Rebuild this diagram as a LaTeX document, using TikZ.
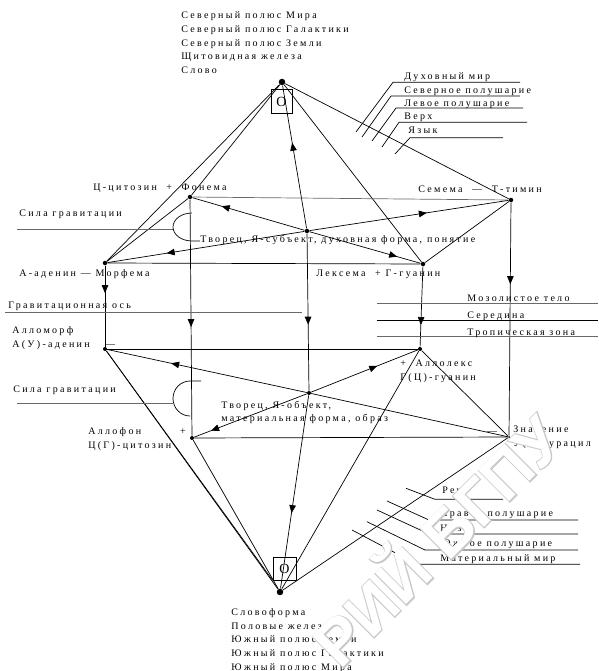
\documentclass[tikz,border=0pt]{standalone}
\usepackage{fontspec}
\setmainfont{Liberation Serif}
\newfontfamily\spaced[LetterSpace=23]{Liberation Serif}
\newfontface\wmface{Liberation Sans Bold}
\newfontface\wmfat[FakeBold=3]{Liberation Sans Bold}
\usetikzlibrary{arrows.meta,decorations.markings}
\definecolor{line_gray}{RGB}{105,105,105}
\definecolor{wm_gray}{RGB}{200,200,200}

\begin{document}
\begin{tikzpicture}[x=1pt,y=-1pt,line width=0.7pt,
    arr/.style={postaction={decorate},decoration={markings,mark=at position #1 with {\arrow{Triangle[length=8pt,width=6.5pt]}}}}]
    \tikzstyle{dot}=[circle, fill=black, inner sep=0pt, minimum size=4.5pt]
    \tikzstyle{bigdot}=[style=dot, minimum size=6.5pt]
    \tikzstyle{pole}=[draw, inner sep=0pt, minimum width=21pt, minimum height=24pt, font=\fontsize{14}{14}\selectfont]
    \tikzstyle{txt}=[anchor=base west, inner sep=0pt, align=left, font=\spaced\fontsize{10}{13.6}\selectfont]
    \tikzstyle{guide}=[draw=line_gray]
    \useasboundingbox (0,0) rectangle (598,671);

    % poles
    \node[bigdot] (n) at (282,82) {};
    \node[pole] (pole_n) at (281.5,101.5) {O};
    \node[bigdot] (b) at (280,592) {};
    \node[pole, minimum width=23pt, minimum height=23pt] (pole_s) at (284.5,568.5) {O};

    % upper level
    \node[dot] (f)  at (190,197) {};
    \node[dot] (s)  at (511,200) {};
    \node[dot] (a)  at (105,263) {};
    \node[dot] (l)  at (423,264) {};
    \node[dot] (c1) at (307,231) {};

    % lower level
    \node[dot, minimum size=4pt] (y)  at (105,349) {};
    \node[dot, minimum size=4pt] (z)  at (420,349) {};
    \node[dot, minimum size=4pt] (x)  at (192,438) {};
    \node[dot, minimum size=2pt] (w)  at (509,437) {};
    \node[dot, minimum size=4pt] (c2) at (309,393) {};

    \path
     (n) edge (a)
     (n) edge (f)
     (n) edge (l)
     (n) edge (s)
     (c1) edge[arr=0.6] (n)
     (f) edge[line_gray] (s)
     (a) edge (l)
     (f) edge (a)
     (l) edge (s)
     (c1) edge[arr=0.74] (f)
     (c1) edge[arr=0.70] (a)
     (c1) edge[arr=0.59] (s)
     (c1) edge[arr=0.79] (l)
     (f) edge[arr=0.54] (x)
     (a) edge[arr=0.34] (y)
     (c1) edge[arr=0.58] (c2)
     (l) edge[arr=0.73] (z)
     (s) edge[arr=0.35] (w)
     (y) edge (z)
     (x) edge (w)
     (z) edge (w)
     (c2) edge[arr=0.68] (y)
     (c2) edge[arr=0.62] (z)
     (c2) edge[arr=0.85] (x)
     (c2) edge (w)
     (c2) edge[arr=0.61] (b)
     (b) edge (y)
     (b) edge (x)
     (b) edge (z)
     (b) edge (w)
     (y) edge (pole_s.south west)
     ;

    % axis and gravity marks
    \draw[guide] (5,312) -- (302,312);
    \draw[guide] (17,229) -- (174,229);
    \draw (200,241) -- (192,241) arc[start angle=90, end angle=270, x radius=19, y radius=14];
    \draw[guide] (17,403) -- (173,403);
    \draw (201,381) -- (190,381) arc[start angle=270, end angle=90, x radius=17, y radius=17.5];
    \draw[guide] (377,303.3) -- (598,303.3);
    \draw (377,320) -- (598,320);
    \draw[guide] (377,336.7) -- (598,336.7);

    % upper right legend
    \draw (356,132) -- (393,82.3) -- (520,82.3);
    \draw (362,137) -- (391,96) -- (520,96);
    \draw (372,141) -- (396,108) -- (523,108);
    \draw (382,147) -- (399,122.3) -- (527,122.3);
    \draw (395,154) -- (410,137.7) -- (503,137.7);

    % lower right legend
    \draw (406,488.3) -- (435,499.3) -- (503,499.3);
    \draw (387,501) -- (429,520) -- (578,520);
    \draw (377,510) -- (429,534) -- (578,534);
    \draw (367,521.7) -- (425,550) -- (578,550);
    \draw (352,530) -- (417,564.3) -- (580,564.3);

    % texts (multi-line nodes sit on the base line of their last line)
    \node[txt] (t_north) at (181,73.4) {Северный полюс Мира\\Северный полюс Галактики\\Северный полюс Земли\\Щитовидная железа\\Слово};
    \node[txt] (t_south) at (231,670) {Словоформа\\Половые железы\\Южный полюс Земли\\Южный полюс Галактики\\Южный полюс Мира};
    \node[txt] (t_f) at (93,190.7) {Ц-цитозин \ + \ Фонема};
    \node[txt] (t_s) at (418,192) {Семема \ — \ Т-тимин};
    \node[txt] (t_a) at (19,276) {А-аденин — Морфема};
    \node[txt] (t_l) at (316,276) {Лексема \ + Г-гуанин};
    \node[txt] (t_c1) at (200,242.5) {Творец, Я-субъект, духовная форма, понятие};
    \node[txt] (t_g1) at (19,216.5) {Сила гравитации};
    \node[txt] (t_axis) at (8,308.5) {Гравитационная ось};
    \node[txt] (t_y) at (12,347.5) {Алломорф\\А(У)-аденин};
    \node[txt, anchor=base] (t_ydash) at (110,347) {—};
    \node[txt] (t_z) at (400,380) {+ \ Аллолекс\\Г(Ц)-гуанин};
    \node[txt] (t_c2) at (221,421.7) {Творец, Я-объект,\\материальная форма, образ};
    \node[txt] (t_g2) at (13,392.3) {Сила гравитации};
    \node[txt] (t_x) at (88,448.3) {Аллофон\\Ц(Г)-цитозин};
    \node[txt, anchor=base] (t_xplus) at (183,434) {+};
    \node[txt, anchor=base] (t_wdash) at (492,434) {—};
    \node[txt] (t_w) at (513,446.5) {Значение\\У(А)-урацил};
    \node[txt] (t_body) at (467,301.5) {Мозолистое тело};
    \node[txt] (t_mid) at (467,318.5) {Середина};
    \node[txt] (t_trop) at (467,335) {Тропическая зона};
    \node[txt] (t_spirit) at (404,80) {Духовный мир};
    \node[txt] (t_nhemi) at (404,93.3) {Северное полушарие};
    \node[txt] (t_left) at (404,106.5) {Левое полушарие};
    \node[txt] (t_top) at (404,120) {Верх};
    \node[txt] (t_lang) at (408,134) {Язык};
    \node[txt] (t_speech) at (442,493) {Речь};
    \node[txt] (t_right) at (440,516) {Правое полушарие};
    \node[txt] (t_low) at (440,531.7) {Низ};
    \node[txt] (t_shemi) at (440,546.5) {Южное полушарие};
    \node[txt] (t_matter) at (440,561.5) {Материальный мир};

    % watermark
    \node[rotate=45, text=wm_gray, font=\wmfat\fontsize{64}{64}\selectfont] (wm_back) at (434,537) {РИЙ БГПУ};
    \node[rotate=45, text=white, font=\wmface\fontsize{64}{64}\selectfont] (wm) at (434,537) {РИЙ БГПУ};
\end{tikzpicture}
\end{document}
